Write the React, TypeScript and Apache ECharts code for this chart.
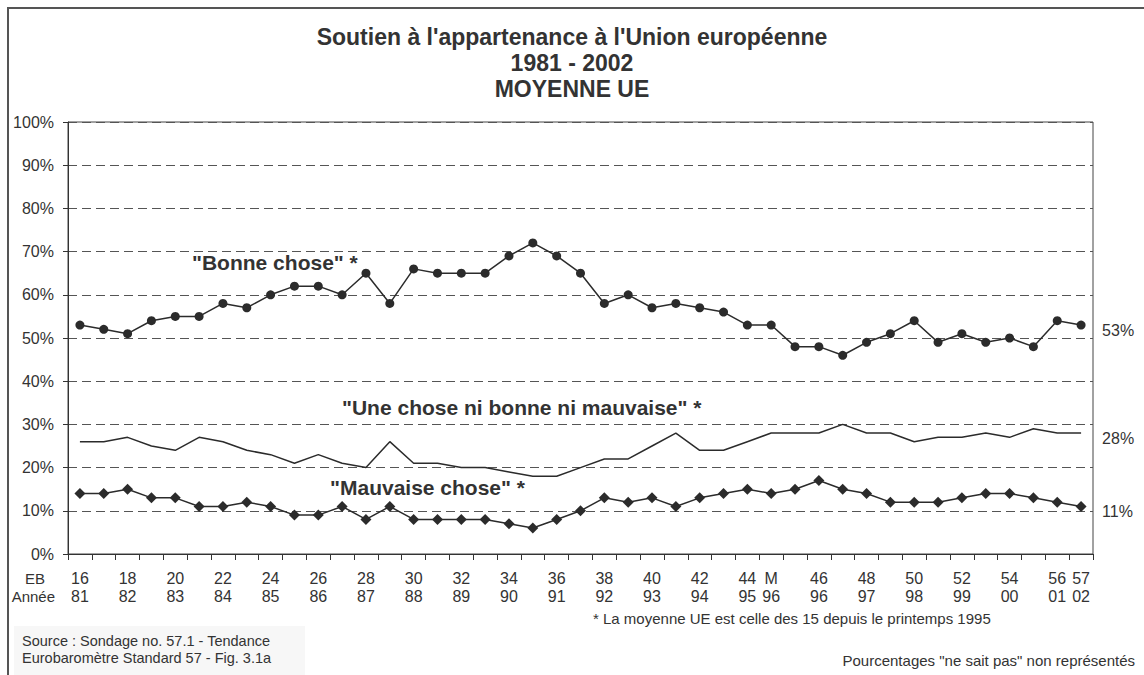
import React, { useEffect, useRef } from "react";
import * as echarts from "echarts";

const ebLabels = [
  "16","17","18","19","20","21","22","23","24","25","26","27","28","29","30",
  "31","32","33","34","35","36","37","38","39","40","41","42","43","44","M",
  "45","46","47","48","49","50","51","52","53","54","55","56","57",
];
const yearLabels = [
  "81","82","82","83","83","84","84","85","85","86","86","87","87","88","88",
  "89","89","90","90","91","91","92","92","93","93","94","94","95","95","96",
  "96","96","97","97","98","98","99","99","00","00","01","01","02",
];
const shownLabels = [
  "16","18","20","22","24","26","28","30","32","34","36","38","40","42","44","M",
  "46","48","50","52","54","56","57",
];
const bonneChose = [
  53,52,51,54,55,55,58,57,60,62,62,60,65,58,66,65,65,65,69,72,69,65,58,60,57,58,57,56,53,53,
  48,48,46,49,51,54,49,51,49,50,48,54,53,
];
const niBonneNiMauvaise = [
  26,26,27,25,24,27,26,24,23,21,23,21,20,26,21,21,20,20,19,18,18,20,22,22,25,28,24,24,26,28,
  28,28,30,28,28,26,27,27,28,27,29,28,28,
];
const mauvaiseChose = [
  14,14,15,13,13,11,11,12,11,9,9,11,8,11,8,8,8,8,7,6,8,10,13,12,13,11,13,14,15,14,
  15,17,15,14,12,12,12,13,14,14,13,12,11,
];
const yTicks = [0, 10, 20, 30, 40, 50, 60, 70, 80, 90, 100];

const FONT = "'Liberation Sans', Arial, sans-serif";
const TXT = "#333";

export default function App() {
  const ref = useRef<HTMLDivElement>(null);
  useEffect(() => {
    document.body.style.margin = "0";
    document.body.style.overflow = "hidden";
    const chart = echarts.init(ref.current!, null, { renderer: "svg" });
    const endLabel = {
      show: true,
      formatter: (p: any) => p.value + "%",
      distance: 21,
      offset: [0, 5],
      color: TXT,
      fontSize: 16,
      fontFamily: FONT,
    };
    chart.setOption({
      animation: false,
      backgroundColor: "#fff",
      textStyle: { fontFamily: FONT },
      grid: {
        left: 68, top: 122, width: 1025, height: 432,
        show: true, borderColor: "#444", borderWidth: 1, backgroundColor: "transparent",
      },
      xAxis: {
        type: "category",
        data: ebLabels,
        boundaryGap: true,
        axisLine: { lineStyle: { color: "#333", width: 1 } },
        axisTick: { show: true, interval: 0, length: 6, lineStyle: { color: "#333" } },
        axisLabel: {
          interval: (idx: number, value: string) => shownLabels.includes(value),
          formatter: (value: string, idx: number) => value + "\n" + yearLabels[idx],
          color: TXT,
          fontSize: 16,
          lineHeight: 18,
          margin: 15,
          fontFamily: FONT,
        },
        splitLine: { show: false },
      },
      yAxis: {
        type: "value",
        min: yTicks[0],
        max: yTicks[yTicks.length - 1],
        interval: 10,
        axisLine: { show: true, lineStyle: { color: "#333", width: 1 } },
        axisTick: { show: true, length: 5, lineStyle: { color: "#333" } },
        axisLabel: {
          formatter: "{value}%",
          color: TXT,
          fontSize: 16,
          margin: 14,
          fontFamily: FONT,
        },
        splitLine: { show: true, lineStyle: { color: "#555", type: [9, 5], width: 1 } },
      },
      series: [
        {
          name: "Bonne chose",
          type: "line",
          data: bonneChose,
          symbol: "circle",
          symbolSize: 9,
          itemStyle: { color: "#2b2b2b" },
          lineStyle: { color: "#2b2b2b", width: 1.5 },
          endLabel,
        },
        {
          name: "Une chose ni bonne ni mauvaise",
          type: "line",
          data: niBonneNiMauvaise,
          symbol: "none",
          lineStyle: { color: "#2b2b2b", width: 1.5 },
          endLabel,
        },
        {
          name: "Mauvaise chose",
          type: "line",
          data: mauvaiseChose,
          symbol: "diamond",
          symbolSize: 11,
          itemStyle: { color: "#2b2b2b" },
          lineStyle: { color: "#2b2b2b", width: 1.5 },
          endLabel,
        },
      ],
      graphic: [
        {
          type: "rect",
          shape: { x: 8, y: 8, width: 1300, height: 800 },
          style: { fill: "none", stroke: "#555", lineWidth: 2 },
          silent: true,
        },
        {
          type: "rect",
          shape: { x: 14, y: 626, width: 291, height: 60 },
          style: { fill: "#f7f7f7", stroke: "none" },
          silent: true,
        },
        {
          type: "text", x: 572, y: 37,
          style: { text: "Soutien à l'appartenance à l'Union européenne", fill: TXT, font: `bold 23px ${FONT}`, align: "center", verticalAlign: "middle" },
        },
        {
          type: "text", x: 572, y: 63,
          style: { text: "1981 - 2002", fill: TXT, font: `bold 23px ${FONT}`, align: "center", verticalAlign: "middle" },
        },
        {
          type: "text", x: 572, y: 89,
          style: { text: "MOYENNE UE", fill: TXT, font: `bold 23px ${FONT}`, align: "center", verticalAlign: "middle" },
        },
        {
          type: "text", x: 192, y: 262,
          style: { text: "\"Bonne chose\" *", fill: TXT, font: `bold 21px ${FONT}`, align: "left", verticalAlign: "middle" },
        },
        {
          type: "text", x: 342, y: 407,
          style: { text: "\"Une chose ni bonne ni mauvaise\" *", fill: TXT, font: `bold 21px ${FONT}`, align: "left", verticalAlign: "middle" },
        },
        {
          type: "text", x: 330, y: 487,
          style: { text: "\"Mauvaise chose\" *", fill: TXT, font: `bold 21px ${FONT}`, align: "left", verticalAlign: "middle" },
        },
        {
          type: "text", x: 45, y: 578,
          style: { text: "EB", fill: TXT, font: `15px ${FONT}`, align: "right", verticalAlign: "middle" },
        },
        {
          type: "text", x: 55, y: 596,
          style: { text: "Année", fill: TXT, font: `15px ${FONT}`, align: "right", verticalAlign: "middle" },
        },
        {
          type: "text", x: 593, y: 618,
          style: { text: "* La moyenne UE est celle des 15 depuis le printemps 1995", fill: TXT, font: `15px ${FONT}`, align: "left", verticalAlign: "middle" },
        },
        {
          type: "text", x: 1135, y: 660,
          style: { text: "Pourcentages \"ne sait pas\" non représentés", fill: TXT, font: `15px ${FONT}`, align: "right", verticalAlign: "middle" },
        },
        {
          type: "text", x: 22, y: 641,
          style: { text: "Source : Sondage no. 57.1 - Tendance", fill: TXT, font: `14.5px ${FONT}`, align: "left", verticalAlign: "middle" },
        },
        {
          type: "text", x: 22, y: 658,
          style: { text: "Eurobaromètre Standard 57 - Fig. 3.1a", fill: TXT, font: `14.5px ${FONT}`, align: "left", verticalAlign: "middle" },
        },
      ],
    });
    return () => chart.dispose();
  }, []);
  return <div ref={ref} style={{ width: 1144, height: 675 }} />;
}
